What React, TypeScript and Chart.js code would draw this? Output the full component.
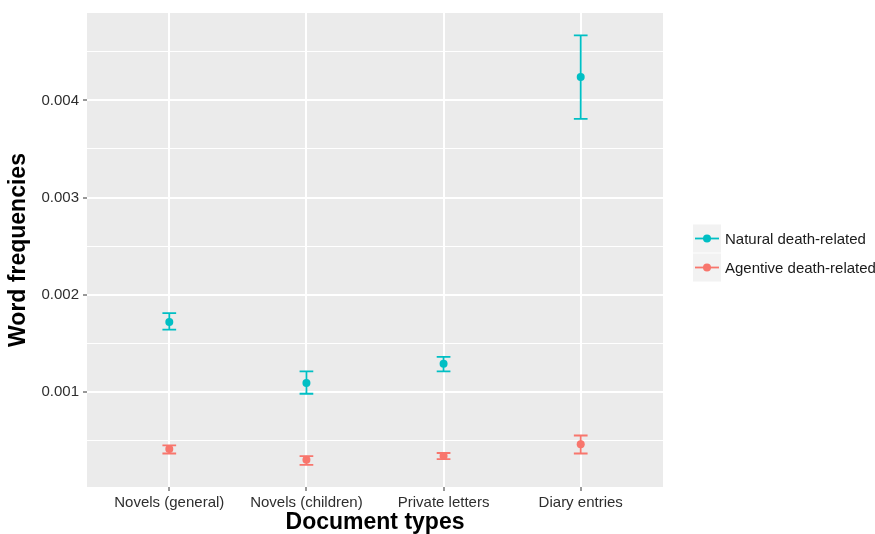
import { useEffect, useRef } from "react";
import { Chart, registerables } from "chart.js";

Chart.register(...registerables);

const categories = ["Novels (general)", "Novels (children)", "Private letters", "Diary entries"];
const naturalLabel = "Natural death-related";
const agentiveLabel = "Agentive death-related";
const naturalMean = [0.00172, 0.00109, 0.00129, 0.00424];
const naturalLow = [0.00164, 0.00098, 0.00121, 0.00381];
const naturalHigh = [0.00181, 0.00121, 0.00136, 0.00467];
const agentiveMean = [0.00041, 0.0003, 0.00034, 0.00046];
const agentiveLow = [0.000365, 0.000248, 0.000306, 0.000365];
const agentiveHigh = [0.000449, 0.000337, 0.00037, 0.00055];
const yMajorTicks = [0.001, 0.002, 0.003, 0.004];
const yMinorTicks = [0.0005, 0.0015, 0.0025, 0.0035, 0.0045];
const yTickLabels = ["0.001", "0.002", "0.003", "0.004"];

const NATURAL_COLOR = "#00BFC4";
const AGENTIVE_COLOR = "#F8766D";
const FONT = "'Liberation Sans', Arial, Helvetica, sans-serif";

const isMajor = (v: number) => yMajorTicks.some((m) => Math.abs(m - v) < 1e-9);

const panelBackground = {
  id: "panelBackground",
  beforeDraw(chart: any) {
    const { ctx, chartArea } = chart;
    ctx.save();
    ctx.fillStyle = "#EBEBEB";
    ctx.fillRect(chartArea.left, chartArea.top, chartArea.right - chartArea.left, chartArea.bottom - chartArea.top);
    ctx.restore();
  },
};

const errorBars = {
  id: "errorBars",
  beforeDatasetsDraw(chart: any) {
    const { ctx, scales } = chart;
    const xs = scales.x;
    const ys = scales.y;
    ctx.save();
    chart.data.datasets.forEach((ds: any) => {
      ctx.strokeStyle = ds.backgroundColor;
      ctx.lineWidth = 1.8;
      ds.data.forEach((pt: any, i: number) => {
        const lo = ys.getPixelForValue(ds.errLow[i]);
        const hi = ys.getPixelForValue(ds.errHigh[i]);
        const cx = xs.getPixelForValue(pt.x);
        const x0 = xs.getPixelForValue(pt.x - 0.05);
        const x1 = xs.getPixelForValue(pt.x + 0.05);
        ctx.beginPath();
        ctx.moveTo(cx, lo);
        ctx.lineTo(cx, hi);
        ctx.moveTo(x0, lo);
        ctx.lineTo(x1, lo);
        ctx.moveTo(x0, hi);
        ctx.lineTo(x1, hi);
        ctx.stroke();
      });
    });
    ctx.restore();
  },
};

const ggLegend = {
  id: "ggLegend",
  afterDraw(chart: any) {
    const { ctx, chartArea } = chart;
    const datasets = chart.data.datasets;
    const key = 28;
    const gap = 1;
    const total = datasets.length * key + (datasets.length - 1) * gap;
    const x0 = chartArea.right + 30;
    let y = (chartArea.top + chartArea.bottom) / 2 - total / 2 + 3;
    ctx.save();
    datasets.forEach((ds: any) => {
      ctx.fillStyle = "#F2F2F2";
      ctx.fillRect(x0, y, key, key);
      const cy = y + key / 2;
      ctx.strokeStyle = ds.backgroundColor;
      ctx.lineWidth = 1.8;
      ctx.beginPath();
      ctx.moveTo(x0 + 2, cy);
      ctx.lineTo(x0 + key - 2, cy);
      ctx.stroke();
      ctx.fillStyle = ds.backgroundColor;
      ctx.beginPath();
      ctx.arc(x0 + key / 2, cy, 4, 0, Math.PI * 2);
      ctx.fill();
      ctx.fillStyle = "#1A1A1A";
      ctx.font = `15px ${FONT}`;
      ctx.textBaseline = "middle";
      ctx.textAlign = "left";
      ctx.fillText(ds.label, x0 + key + 4, cy + 1.5);
      y += key + gap;
    });
    ctx.restore();
  },
};

export default function App() {
  const ref = useRef<HTMLCanvasElement | null>(null);

  useEffect(() => {
    if (!ref.current) return;
    const chart = new Chart(ref.current, {
      type: "scatter",
      data: {
        datasets: [
          {
            label: naturalLabel,
            data: naturalMean.map((v, i) => ({ x: i, y: v })),
            backgroundColor: NATURAL_COLOR,
            borderColor: NATURAL_COLOR,
            pointRadius: 4,
            pointBorderWidth: 0,
            errLow: naturalLow,
            errHigh: naturalHigh,
          } as any,
          {
            label: agentiveLabel,
            data: agentiveMean.map((v, i) => ({ x: i, y: v })),
            backgroundColor: AGENTIVE_COLOR,
            borderColor: AGENTIVE_COLOR,
            pointRadius: 4,
            pointBorderWidth: 0,
            errLow: agentiveLow,
            errHigh: agentiveHigh,
          } as any,
        ],
      },
      options: {
        animation: false,
        responsive: false,
        devicePixelRatio: 1,
        layout: { padding: { left: 0, top: 10, right: 212, bottom: 0 } },
        plugins: { legend: { display: false }, tooltip: { enabled: false } },
        scales: {
          x: {
            type: "linear",
            min: -0.6,
            max: 3.6,
            afterBuildTicks: (s: any) => {
              s.ticks = categories.map((_, i) => ({ value: i }));
            },
            afterFit: (s: any) => {
              s.height = 47;
            },
            ticks: {
              autoSkip: false,
              maxRotation: 0,
              padding: 3,
              color: "#2E2E2E",
              font: { family: FONT, size: 15 },
              callback: (v: any) => categories[Math.round(Number(v))] ?? "",
            },
            grid: { color: "#FFFFFF", lineWidth: 2, tickColor: "#333333", tickLength: 4, tickWidth: 1 },
            border: { display: false },
            title: {
              display: true,
              text: "Document types",
              color: "#000000",
              font: { family: FONT, size: 23, weight: "bold", lineHeight: 1 },
              padding: { top: 0, bottom: 0 },
            },
          },
          y: {
            type: "linear",
            min: 0.00002,
            max: 0.0049,
            afterBuildTicks: (s: any) => {
              s.ticks = [...yMinorTicks, ...yMajorTicks].sort((a, b) => a - b).map((v) => ({ value: v }));
            },
            afterFit: (s: any) => {
              s.width = 87;
            },
            ticks: {
              autoSkip: false,
              padding: 4,
              color: "#2E2E2E",
              font: { family: FONT, size: 15 },
              callback: (v: any) => {
                const idx = yMajorTicks.findIndex((m) => Math.abs(m - Number(v)) < 1e-9);
                return idx >= 0 ? yTickLabels[idx] : "";
              },
            },
            grid: {
              color: "#FFFFFF",
              lineWidth: (c: any) => (c.tick && isMajor(c.tick.value) ? 2 : 1),
              tickColor: (c: any) => (c.tick && isMajor(c.tick.value) ? "#333333" : "rgba(0,0,0,0)"),
              tickLength: 4,
              tickWidth: 1,
            },
            border: { display: false },
            title: {
              display: true,
              text: "Word frequencies",
              color: "#000000",
              font: { family: FONT, size: 23, weight: "bold", lineHeight: 1 },
              padding: { top: 7.5, bottom: 0 },
            },
          },
        },
      } as any,
      plugins: [panelBackground, errorBars, ggLegend],
    });
    return () => chart.destroy();
  }, []);

  return (
    <div style={{ position: "fixed", left: 0, top: 0, width: 875, height: 534, background: "#FFFFFF" }}>
      <canvas ref={ref} width={875} height={534} style={{ width: 875, height: 534, display: "block" }} />
    </div>
  );
}
